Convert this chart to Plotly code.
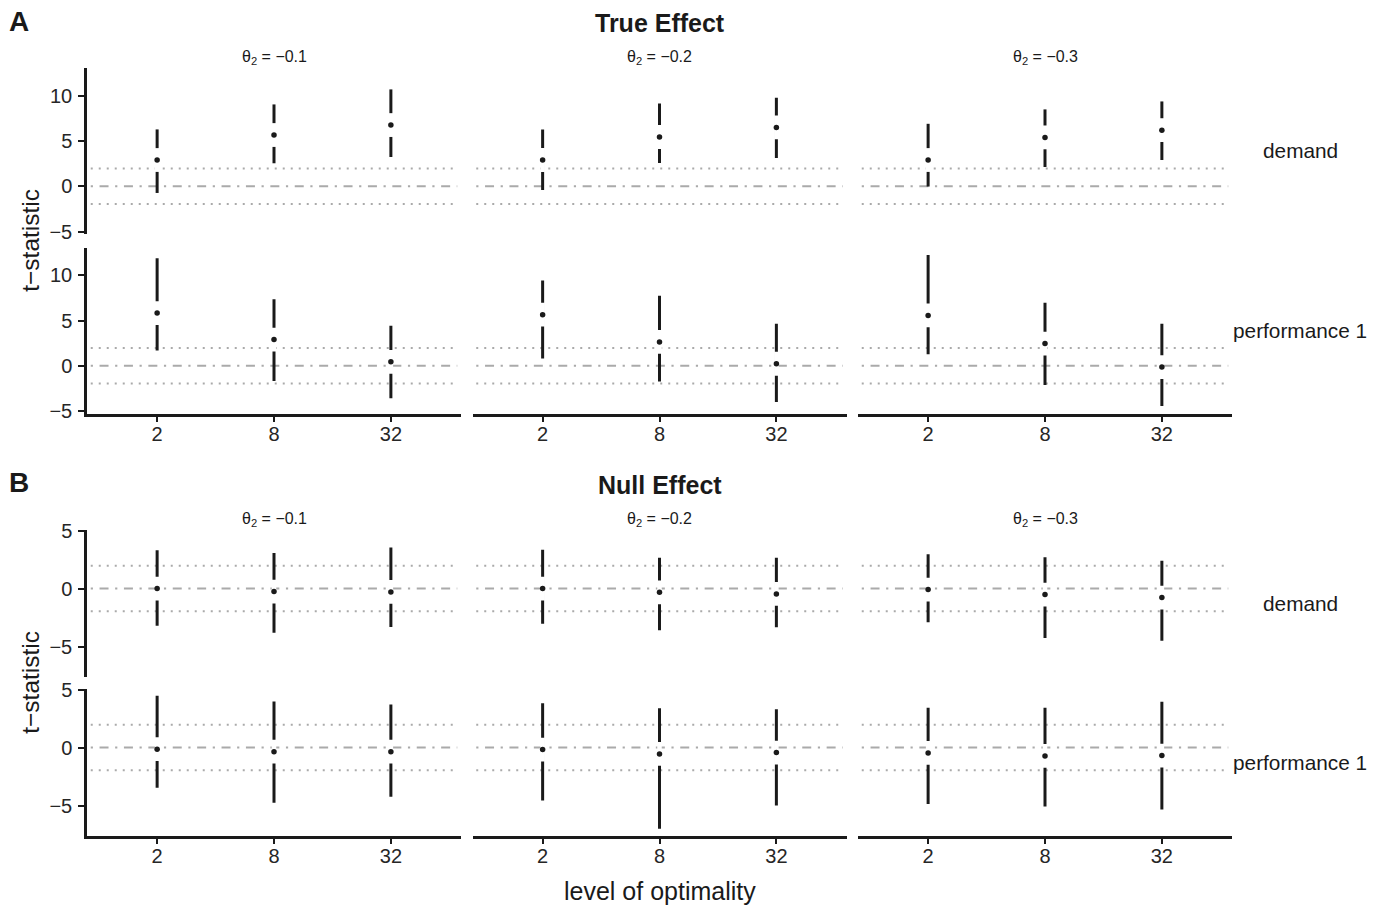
import plotly.graph_objects as go

W, H = 1384, 907

categories = ["2", "8", "32"]
theta_labels = ["−0.1", "−0.2", "−0.3"]
outcomes = ["demand", "performance 1"]
panel_titles = ["True Effect", "Null Effect"]
panel_letters = ["A", "B"]
crit = 1.96

# ---- True effect (panel A) : per theta, values at optimality 2, 8, 32
true_demand_est = [[2.90, 5.66, 6.76], [2.90, 5.44, 6.50], [2.90, 5.40, 6.20]]
true_demand_lo = [[-0.74, 2.54, 3.23], [-0.40, 2.57, 3.12], [-0.03, 2.13, 2.90]]
true_demand_hi = [[6.28, 9.04, 10.70], [6.28, 9.15, 9.78], [6.90, 8.49, 9.37]]

true_perf_est = [[5.82, 2.89, 0.44], [5.64, 2.63, 0.22], [5.56, 2.45, -0.15]]
true_perf_lo = [[1.68, -1.69, -3.60], [0.80, -1.73, -4.00], [1.28, -2.13, -4.44]]
true_perf_hi = [[11.87, 7.36, 4.43], [9.41, 7.73, 4.65], [12.23, 6.96, 4.65]]

# ---- Null effect (panel B)
null_demand_est = [[0.00, -0.26, -0.29], [0.00, -0.32, -0.46], [-0.09, -0.52, -0.78]]
null_demand_lo = [[-3.20, -3.80, -3.30], [-3.04, -3.60, -3.33], [-2.90, -4.25, -4.50]]
null_demand_hi = [[3.30, 3.07, 3.53], [3.35, 2.66, 2.66], [2.95, 2.69, 2.40]]

null_perf_est = [[-0.14, -0.35, -0.35], [-0.17, -0.55, -0.43], [-0.46, -0.72, -0.69]]
null_perf_lo = [[-3.46, -4.76, -4.24], [-4.56, -7.00, -5.00], [-4.85, -5.08, -5.34]]
null_perf_hi = [[4.47, 3.96, 3.70], [3.81, 3.38, 3.29], [3.43, 3.43, 3.95]]

panels = [
    [(true_demand_est, true_demand_lo, true_demand_hi), (true_perf_est, true_perf_lo, true_perf_hi)],
    [(null_demand_est, null_demand_lo, null_demand_hi), (null_perf_est, null_perf_lo, null_perf_hi)],
]
panel_ticks = [[-5, 0, 5, 10], [-5, 0, 5]]

# ---- layout geometry (pixels)
col_px = [(87, 461), (472.5, 846.5), (858, 1232)]
row_px = [[(68, 234), (247.5, 413.5)], [(530, 676.5), (689, 835.5)]]

FONT = "Liberation Sans, Arial, Helvetica, sans-serif"
INK = "#1a1a1a"
TICK = "#262626"
REF = "#aaaaaa"

fig = go.Figure()
layout = dict(
    width=W, height=H,
    margin=dict(l=0, r=0, t=0, b=0, pad=0, autoexpand=False),
    plot_bgcolor="white", paper_bgcolor="white",
    showlegend=False,
    font=dict(family=FONT, color=INK),
)
shapes = []
annotations = []

idx = 0
for p in range(2):
    # shared y-range per panel from data with 5% expansion
    all_lo = [v for o in panels[p] for row in o[1] for v in row]
    all_hi = [v for o in panels[p] for row in o[2] for v in row]
    ymin, ymax = min(all_lo), max(all_hi)
    pad = 0.05 * (ymax - ymin)
    yr = [ymin - pad, ymax + pad]
    for r in range(2):
        est, lo, hi = panels[p][r]
        for c in range(3):
            idx += 1
            xa = "x" if idx == 1 else f"x{idx}"
            ya = "y" if idx == 1 else f"y{idx}"
            xkey = "xaxis" if idx == 1 else f"xaxis{idx}"
            ykey = "yaxis" if idx == 1 else f"yaxis{idx}"
            x0, x1 = col_px[c]
            t0, t1 = row_px[p][r]
            bottom_row = (r == 1)
            left_col = (c == 0)
            layout[xkey] = dict(
                domain=[x0 / W, x1 / W], anchor=ya, automargin=False,
                type="category", categoryorder="array", categoryarray=categories,
                range=[-0.6, 2.6], showgrid=False, zeroline=False,
                showline=bottom_row, linecolor=INK, linewidth=2.5,
                ticks="outside" if bottom_row else "", ticklen=6, tickwidth=2.2, tickcolor=INK,
                showticklabels=bottom_row,
                tickfont=dict(family=FONT, size=20, color=TICK),
                ticklabelstandoff=-5,
                fixedrange=True,
            )
            layout[ykey] = dict(
                domain=[1 - t1 / H, 1 - t0 / H], anchor=xa, automargin=False,
                range=yr, tickvals=panel_ticks[p], ticktext=[str(v).replace("-", "−") for v in panel_ticks[p]],
                showgrid=False, zeroline=False,
                showline=left_col, linecolor=INK, linewidth=2.5,
                ticks="outside" if left_col else "", ticklen=6, tickwidth=2.2, tickcolor=INK,
                showticklabels=left_col,
                tickfont=dict(family=FONT, size=20, color=TICK),
                ticklabelstandoff=2,
                fixedrange=True,
            )
            # reference lines
            for yv, dash in [(crit, "2px,6px"), (-crit, "2px,6px"), (0, "2.2px,6.6px,9px,6.6px")]:
                shapes.append(dict(
                    type="line", xref=f"{xa} domain", yref=ya,
                    x0=0.01, x1=0.99, y0=yv, y1=yv, layer="below",
                    line=dict(color=REF, width=2, dash=dash),
                ))
            e, l, h = est[c], lo[c], hi[c]
            # interval bars
            fig.add_trace(go.Scatter(
                x=categories, y=e, mode="markers", xaxis=xa, yaxis=ya,
                marker=dict(size=1, color="rgba(0,0,0,0)"),
                error_y=dict(type="data", symmetric=False,
                             array=[hh - ee for hh, ee in zip(h, e)],
                             arrayminus=[ee - ll for ee, ll in zip(e, l)],
                             thickness=3, width=0, color=INK),
                hoverinfo="skip",
            ))
            # white gap around the point
            fig.add_trace(go.Scatter(
                x=categories, y=e, mode="markers", xaxis=xa, yaxis=ya,
                marker=dict(symbol="line-ns", size=17, color="white",
                            line=dict(color="white", width=4.5)),
                hoverinfo="skip",
            ))
            # point estimate
            fig.add_trace(go.Scatter(
                x=categories, y=e, mode="markers", xaxis=xa, yaxis=ya,
                marker=dict(symbol="circle", size=5.5, color=INK, line=dict(width=0)),
            ))

# ---- texts
def px_ann(text, x, y, size, bold=False, angle=0, xanchor="center", color=INK):
    annotations.append(dict(
        text=f"<b>{text}</b>" if bold else text,
        x=x / W, y=1 - y / H, xref="paper", yref="paper",
        xanchor=xanchor, yanchor="middle", showarrow=False, textangle=angle,
        font=dict(family=FONT, size=size, color=color),
    ))

title_y = [23, 485]
letter_y = [21, 482]
strip_y = [57, 519]
for p in range(2):
    px_ann(panel_letters[p], 19, letter_y[p], 28, bold=True)
    px_ann(panel_titles[p], 660, title_y[p], 25, bold=True)
    for c in range(3):
        cx = (col_px[c][0] + col_px[c][1]) / 2
        px_ann(f"θ<sub>2</sub> = {theta_labels[c]}", cx, strip_y[p], 16)
    for r in range(2):
        cy = (row_px[p][r][0] + row_px[p][r][1]) / 2
        px_ann(outcomes[r], 1300, cy, 20.8)
    ymid = (row_px[p][0][0] + row_px[p][1][1]) / 2
    px_ann("t−statistic", 31, ymid, 24.5, angle=-90)

px_ann("level of optimality", 660, 891, 25)

layout["shapes"] = shapes
layout["annotations"] = annotations
fig.update_layout(**layout)

fig.write_html("out.html", config={"displayModeBar": False},
               post_script="document.body.style.margin='0px';")
